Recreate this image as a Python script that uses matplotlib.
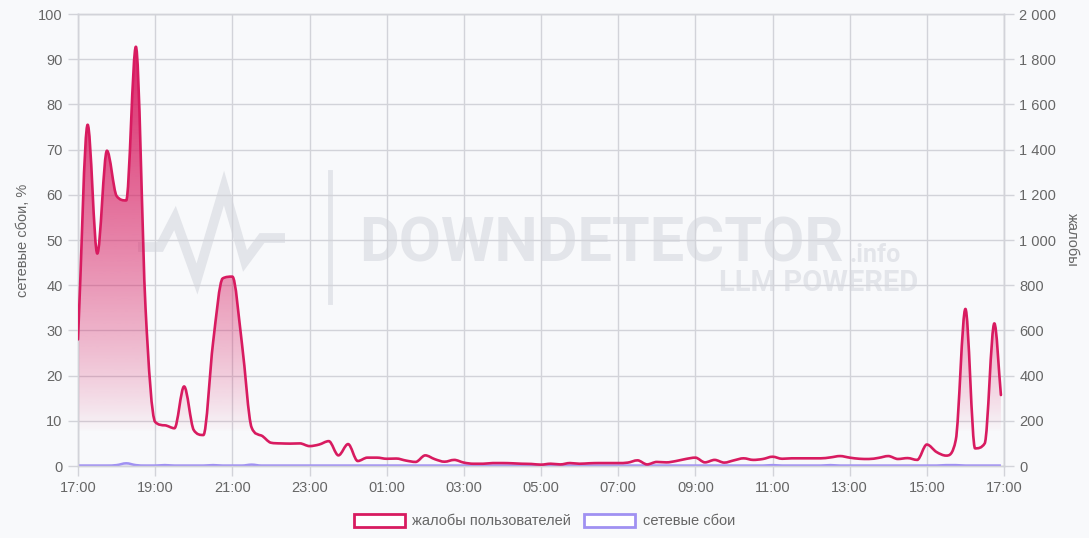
import numpy as np
import matplotlib
matplotlib.use('Agg')
import matplotlib.pyplot as plt
from matplotlib.lines import Line2D
from matplotlib.patches import Rectangle, PathPatch
from matplotlib.path import Path

plt.rcParams['font.family'] = ['Liberation Sans', 'DejaVu Sans']

# время в часах от 17:00 (шаг 15 минут), последняя точка чуть раньше 17:00
hours = [i * 0.25 for i in range(96)] + [23.92]

# жалобы пользователей (правая ось)
complaints = [
    560, 1510, 940, 1395, 1195, 1175, 1855, 700, 195, 180,
    167, 352, 159, 137, 545, 830, 838, 540, 170, 135,
    103, 100, 99, 100, 88, 95, 110, 47, 97, 22,
    37, 37, 32, 33, 24, 18, 47, 30, 19, 27,
    15, 10, 10, 13, 13, 12, 10, 9, 6, 10,
    7, 13, 10, 12, 13, 13, 13, 15, 25, 7,
    18, 16, 22, 31, 37, 16, 27, 15, 25, 34,
    27, 31, 41, 32, 34, 34, 34, 34, 38, 44,
    37, 32, 31, 36, 44, 31, 35, 27, 95, 62,
    46, 115, 695, 78, 100, 631, 314,
]

# сетевые сбои, % (левая ось)
network = [
    0.1, 0.1, 0.1, 0.1, 0.2, 0.6, 0.2, 0.1, 0.1, 0.2,
    0.1, 0.1, 0.1, 0.1, 0.2, 0.1, 0.1, 0.1, 0.3, 0.1,
    0.1, 0.1, 0.1, 0.1, 0.1, 0.1, 0.1, 0.1, 0.1, 0.1,
    0.1, 0.1, 0.1, 0.1, 0.1, 0.1, 0.1, 0.1, 0.1, 0.1,
    0.1, 0.1, 0.1, 0.1, 0.1, 0.1, 0.1, 0.1, 0.1, 0.1,
    0.1, 0.1, 0.1, 0.1, 0.1, 0.1, 0.1, 0.1, 0.1, 0.1,
    0.1, 0.1, 0.1, 0.1, 0.1, 0.1, 0.1, 0.1, 0.1, 0.1,
    0.1, 0.1, 0.2, 0.1, 0.1, 0.1, 0.1, 0.1, 0.2, 0.1,
    0.1, 0.1, 0.1, 0.1, 0.1, 0.1, 0.1, 0.1, 0.1, 0.1,
    0.2, 0.2, 0.1, 0.1, 0.1, 0.1, 0.1,
]

tick_hours = list(range(0, 25, 2))
tick_labels = ['17:00', '19:00', '21:00', '23:00', '01:00', '03:00', '05:00',
               '07:00', '09:00', '11:00', '13:00', '15:00', '17:00']
left_ticks = list(range(0, 101, 10))
right_ticks = list(range(0, 2001, 200))

PINK = '#d81b60'
VIOLET = '#a091f2'
GRID = '#d2d3d9'
BG = '#f8f9fb'
WM = '#e3e5ea'
TXT = '#666666'


def smooth_path(x, y, close_to=None):
    # монотонная кубическая кривая (как в chart.js), через кривые Безье
    x = np.asarray(x, float)
    y = np.asarray(y, float)
    h = np.diff(x)
    d = np.diff(y) / h
    m = np.zeros_like(y)
    m[0], m[-1] = d[0], d[-1]
    for i in range(1, len(y) - 1):
        if d[i - 1] * d[i] > 0:
            m[i] = (d[i - 1] + d[i]) / 2
    for i in range(len(d)):
        if d[i] == 0:
            m[i] = m[i + 1] = 0
            continue
        a, b = m[i] / d[i], m[i + 1] / d[i]
        s = a * a + b * b
        if s > 9:
            t = 3 / np.sqrt(s)
            m[i], m[i + 1] = t * a * d[i], t * b * d[i]
    verts = [(x[0], y[0])]
    codes = [Path.MOVETO]
    for i in range(len(h)):
        verts += [(x[i] + h[i] / 3, y[i] + m[i] * h[i] / 3),
                  (x[i + 1] - h[i] / 3, y[i + 1] - m[i + 1] * h[i] / 3),
                  (x[i + 1], y[i + 1])]
        codes += [Path.CURVE4] * 3
    if close_to is not None:
        verts += [(x[-1], close_to), (x[0], close_to), (x[0], y[0])]
        codes += [Path.LINETO, Path.LINETO, Path.CLOSEPOLY]
    return Path(verts, codes)


fig = plt.figure(figsize=(10.89, 5.38), dpi=100, facecolor=BG)
ax = fig.add_axes([78 / 1089, 72 / 538, 926 / 1089, 452 / 538])
ax.set_facecolor('none')
ax2 = ax.twinx()

# водяной знак
W, H = 1089, 538
def fx(px):
    return px / W
def fy(py):
    return 1 - py / H

logo_x = [138, 160, 175, 197, 224, 245, 262, 285]
logo_y = [247, 247, 218, 279, 188, 261, 238, 238]
fig.add_artist(Line2D([fx(v) for v in logo_x], [fy(v) for v in logo_y],
                      transform=fig.transFigure, lw=7, color=WM, zorder=-1,
                      solid_joinstyle='miter', solid_capstyle='butt'))
fig.add_artist(Line2D([fx(330), fx(330)], [fy(172), fy(302)],
                      transform=fig.transFigure, lw=3.5, color=WM, zorder=-1))
fig.text(fx(359), fy(262), 'DOWNDETECTOR', fontsize=44, fontweight='bold',
         family='Roboto', color=WM, ha='left', va='baseline', zorder=-1)
fig.text(fx(901), fy(262), '.info', fontsize=18, fontweight='bold',
         family='Roboto', color=WM, ha='right', va='baseline', zorder=-1)
fig.text(fx(918), fy(291), 'LLM POWERED', fontsize=21, fontweight='bold',
         family='Roboto', color=WM, ha='right', va='baseline', zorder=-1)

# сетевые сбои
ax.fill_between(hours, network, 0, color=VIOLET, alpha=0.15, lw=0)
ax.add_patch(PathPatch(smooth_path(hours, network), fill=False,
                       edgecolor=VIOLET, lw=1.8, clip_on=False, zorder=3))

# жалобы с градиентной заливкой
grad_v = np.linspace(0, 2000, 400)
alpha = np.clip((grad_v - 150) / 1850, 0, 1) ** 0.8
rgba = np.zeros((400, 1, 4))
rgba[..., :3] = matplotlib.colors.to_rgb(PINK)
rgba[..., 3] = alpha[:, None]
im = ax2.imshow(rgba, extent=[0, 24, 0, 2000], origin='lower', aspect='auto',
                zorder=1, interpolation='bilinear')
im.set_clip_path(smooth_path(hours, complaints, close_to=0),
                 transform=ax2.transData)
ax2.add_patch(PathPatch(smooth_path(hours, complaints), fill=False,
                        edgecolor=PINK, lw=1.9, zorder=3,
                        joinstyle='round', capstyle='round'))

ax.set_xlim(0, 24)
ax.set_ylim(0, 100)
ax2.set_xlim(0, 24)
ax2.set_ylim(0, 2000)

ax.set_xticks(tick_hours)
ax.set_xticklabels(tick_labels)
ax.set_yticks(left_ticks)
ax2.set_yticks(right_ticks)
ax2.set_yticklabels(['{:,}'.format(v).replace(',', ' ') for v in right_ticks])

ax.grid(True, color=GRID, lw=1)
ax2.grid(False)
for a in (ax, ax2):
    for s in a.spines.values():
        s.set_color(GRID)
        s.set_linewidth(1)
    a.tick_params(length=7, width=1, color=GRID, labelcolor=TXT,
                  labelsize=10.5, pad=4)

ax.set_ylabel('сетевые сбои, %', color=TXT, fontsize=10.5, labelpad=6)
ax2.set_ylabel('жалобы', color=TXT, fontsize=10.5, rotation=270, labelpad=16)

handles = [Rectangle((0, 0), 1, 1, facecolor='white', edgecolor=PINK, lw=2),
           Rectangle((0, 0), 1, 1, facecolor='white', edgecolor=VIOLET, lw=2)]
fig.legend(handles, ['жалобы пользователей', 'сетевые сбои'], loc='center',
           bbox_to_anchor=(0.5, fy(521)), ncol=2, frameon=False,
           fontsize=10.5, labelcolor=TXT, handlelength=3.5, handleheight=1.0,
           handletextpad=0.5, columnspacing=0.9)

fig.savefig('out.png', dpi=100, facecolor=BG)
